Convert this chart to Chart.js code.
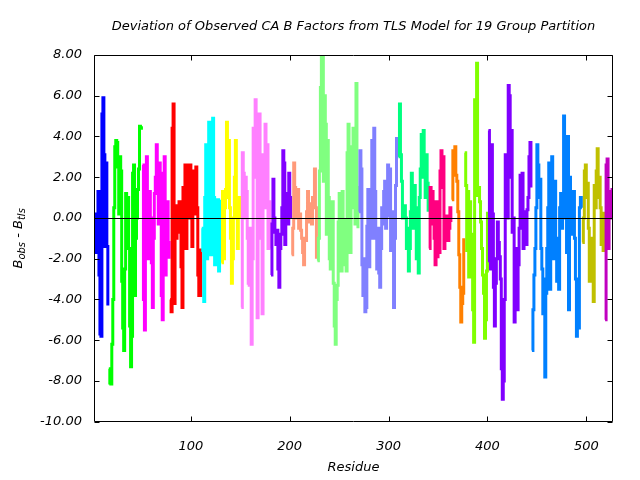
<!DOCTYPE html>
<html><head><meta charset="utf-8">
<script src="https://cdn.jsdelivr.net/npm/chart.js@4"></script>
<style>html,body{margin:0;padding:0;background:#fff;}canvas{display:block;}</style>
</head><body>
<canvas id="c" width="640" height="480"></canvas>
<script>
const titleText = "Deviation of Observed CA B Factors from TLS Model for 19 Group Partition";
const xTitle = "Residue";
const xTickValues = [100, 200, 300, 400, 500];
const yTickValues = [-10, -8, -6, -4, -2, 0, 2, 4, 6, 8];
const xRange = [2, 527];

const groupColors = ["#0000ff","#00ff00","#ff00ff","#ff0000","#00ffff","#ffff00","#ff80ff","#8000ff","#ff9a7a","#80ff80",
                     "#8080ff","#00ff80","#ff0080","#ff8000","#80ff00","#8000ff","#0080ff","#c0c000","#c000c0"];
const groupStarts = [2, 17, 51, 79, 111, 131, 151, 181, 202, 228, 270, 310, 341, 364, 377, 401, 445, 496, 519];

const g01 = [-1.5,-1.7,0.2,-0.5,1.3,-2.8,-5.7,-5.8,5.1,5.9,3.1,-1.4,2.7,-1.4,-4.3];
const g02 = [-7.4,-8.1,-8.15,-6.2,-4.0,0.5,3.5,3.8,3.7,2.5,0.2,3.0,2.3,-3.1,-5.4,-6.5,-2.5,1.2,0.3,1.0,-1.5,-5.3,-7.3,-5.8,2.2,2.6,-3.8,-1.0,0.0,1.4,2.4,4.5,4.4,4.5];
const g03 = [2.6,-4.0,-5.5,1.0,3.0,0.5,-2.0,1.3,0.0,-2.2,-4.4,-1.0,1.2,2.0,3.6,1.5,-0.3,2.7,0.5,-3.8,-5.0,2.2,3.0,-2.8,-0.5,0.8,-1.2,-2.0];
const g04 = [-4.0,-4.6,4.4,5.6,-4.2,0.6,-1.0,0.3,-0.7,0.8,0.0,-2.4,-4.4,1.5,0.8,2.6,-1.5,1.0,2.6,0.0,2.6,0.5,-1.4,2.3,0.2,1.5,2.5,0.5,-2.8,-3.8,-3.8,-1.5];
const g05 = [-0.5,-1.6,-4.1,1.0,3.6,-2.0,0.5,4.7,1.5,-1.8,4.3,4.9,1.0,-2.3,0.3,-1.5,0.9,-2.6,-1.0,0.9];
const g06 = [-2.2,1.3,-2.0,0.5,1.4,4.7,1.0,3.8,0.5,-1.0,-3.2,-2.0,0.0,2.0,3.8,1.0,-1.5,0.5,1.0,0.0];
const g07 = [-4.4,3.2,2.2,0.0,2.0,1.3,-1.0,-3.2,-3.3,-0.5,-6.2,-2.0,4.4,2.0,5.8,4.3,-4.9,0.5,5.1,-1.0,1.9,-4.7,3.1,1.9,4.6,0.5,3.6,-1.5,0.8,-1.5];
const g08 = [-2.8,-0.3,1.9,0.0,-0.7,-1.3,-0.6,-2.5,-3.4,-1.5,-0.8,0.5,3.3,2.7,-1.3,0.5,1.2,-0.3,2.2,1.0,0.0];
const g09 = [-1.8,-0.5,2.7,1.5,0.0,1.3,1.4,-0.5,0.2,-0.6,-1.0,-1.7,-2.3,-1.0,-1.1,0.3,1.3,-0.2,0.3,0.7,-0.3,1.0,0.5,2.4,0.5,-2.0];
const g10 = [-2.1,-1.0,2.3,6.4,8.0,7.9,1.8,6.0,4.6,-0.8,3.8,1.0,-2.0,-2.5,-0.5,0.8,-3.2,-5.3,-6.2,-4.0,-3.3,-0.2,1.2,-1.5,-2.6,1.3,-0.1,-2.3,-1.3,-2.6,3.2,4.6,1.1,-1.7,3.5,0.5,4.4,1.5,-0.3,6.6,1.5,-0.5];
const g11 = [0.3,3.3,2.4,-2.3,-3.8,-2.0,-4.6,-4.4,-0.4,1.4,-2.4,-1.0,1.3,3.8,-1.0,4.4,1.3,-1.0,-2.5,-0.5,-2.7,-3.4,-1.5,0.5,-0.3,1.3,1.8,-0.5,0.1,2.6,1.0,2.4,-1.6,-0.5,0.3,-4.4,-1.0,1.6,3.9,3.0];
const g12 = [3.0,5.6,3.1,1.8,0.0,0.1,0.6,0.0,-1.5,-0.5,-2.6,-1.5,0.3,2.2,1.0,-0.5,1.6,0.5,-2.0,0.2,-2.7,1.0,2.4,4.1,2.0,4.3,3.1,1.0,3.1,1.7,0.3];
const g13 = [-1.5,1.5,0.8,1.3,-0.3,-1.0,-2.3,0.8,-1.9,0.8,-1.7,2.3,3.3,1.5,3.0,-1.5,-0.5,-1.0,0.1,-1.1,-0.5,0.5,-0.2];
const g14 = [0.9,3.3,2.6,3.5,2.1,1.8,0.3,-1.8,-3.4,-5.1,-4.2,-3.7,-1.0];
const g15 = [3.2,1.6,-1.6,1.3,-2.9,0.8,-0.8,-2.0,-4.5,-6.1,5.8,2.6,7.6,1.1,1.5,0.8,-0.2,-1.5,-2.8,-3.7,-5.9,-5.0,-2.6,0.3];
const g16 = [4.3,-2.1,-2.5,3.6,0.2,-3.4,-5.3,-3.2,-2.0,-0.2,-1.2,-1.9,-3.0,-7.4,-8.9,-8.0,-4.0,3.1,1.7,0.0,6.5,6.0,2.0,4.3,-0.7,0.0,-5.1,-3.3,-1.5,-4.5,-2.3,-0.5,2.1,0.5,2.2,-1.5,-0.5,0.3,-1.3,0.4,1.0,3.0,3.7,1.5];
const g17 = [-6.5,-4.5,-2.8,-1.5,0.5,3.6,2.6,1.0,1.9,-1.5,-2.5,-4.7,-3.0,-7.8,-3.7,-1.5,0.5,2.7,-3.5,1.8,3.0,1.3,-2.0,1.8,-1.0,-3.1,-1.0,-3.5,0.5,1.2,-0.5,0.3,5.0,3.7,0.0,-1.7,4.0,-4.5,2.0,-0.8,1.3,-0.5,1.3,-1.0,-3.0,-5.8,-4.0,-5.4,0.5,1.0,0.5];
const g18 = [-1.2,0.0,2.3,2.6,1.0,1.7,-0.5,-3.1,-2.0,-2.6,-1.0,-4.1,1.6,0.5,2.3,3.4,1.0,2.0,0.5,-1.3,0.0,-1.6,0.3];
const g19 = [-5.0,2.6,2.9,-1.5,0.5,1.3,0.0,1.4,1.4];

const groupValues = [g01,g02,g03,g04,g05,g06,g07,g08,g09,g10,g11,g12,g13,g14,g15,g16,g17,g18,g19];

const FONT = "'DejaVu Sans', 'Verdana', sans-serif";
const baseFont = { family: FONT, size: 13, style: 'italic', weight: 'normal' };

const datasets = groupValues.map((vals, k) => ({
  data: vals.map((v, i) => ({ x: groupStarts[k] + i, y: v })),
  borderColor: groupColors[k],
  backgroundColor: groupColors[k],
  borderWidth: 3,
  stepped: true,
  pointRadius: 0,
  fill: false,
  order: 100 - k
}));

const framePlugin = {
  id: 'frame',
  beforeDraw(chart) {
    const ctx = chart.ctx;
    ctx.save(); ctx.fillStyle = '#fff'; ctx.fillRect(0, 0, chart.width, chart.height); ctx.restore();
  },
  afterDatasetsDraw(chart) {
    const { ctx, chartArea: a, scales } = chart;
    ctx.save();
    ctx.strokeStyle = '#000';
    ctx.lineWidth = 1;
    const y0 = Math.round(scales.y.getPixelForValue(0)) + 0.5;
    ctx.beginPath(); ctx.moveTo(a.left, y0); ctx.lineTo(a.right, y0); ctx.stroke();
    const L = Math.round(a.left) + 0.5, R = Math.round(a.right) - 0.5, T = Math.round(a.top) + 0.5, B = Math.round(a.bottom) - 0.5;
    ctx.beginPath(); ctx.rect(L, T, R - L, B - T); ctx.stroke();
    const tl = 5;
    ctx.beginPath();
    yTickValues.forEach(v => {
      const y = Math.round(scales.y.getPixelForValue(v)) + 0.5;
      ctx.moveTo(L, y); ctx.lineTo(L + tl, y);
      ctx.moveTo(R, y); ctx.lineTo(R - tl, y);
    });
    xTickValues.forEach(v => {
      const x = Math.round(scales.x.getPixelForValue(v)) + 0.5;
      ctx.moveTo(x, B); ctx.lineTo(x, B - tl);
      ctx.moveTo(x, T); ctx.lineTo(x, T + tl);
    });
    ctx.stroke();
    ctx.fillStyle = '#000';
    // title
    ctx.font = "italic 13px " + FONT;
    ctx.textAlign = 'center';
    ctx.textBaseline = 'middle';
    ctx.fillText(titleText, (a.left + a.right) / 2, 27);
    // y axis title with subscripts
    ctx.textAlign = 'left';
    ctx.translate(18, (a.top + a.bottom) / 2);
    ctx.rotate(-Math.PI / 2);
    ctx.textBaseline = 'alphabetic';
    const big = "italic 13px " + FONT, small = "italic 10px " + FONT;
    const parts = [["B", big, 0], ["obs", small, 3], [" - B", big, 0], ["tls", small, 3]];
    let w = 0;
    parts.forEach(p => { ctx.font = p[1]; w += ctx.measureText(p[0]).width; });
    let x = -w / 2;
    parts.forEach(p => { ctx.font = p[1]; ctx.fillText(p[0], x, 4 + p[2]); x += ctx.measureText(p[0]).width; });
    ctx.restore();
  }
};

new Chart(document.getElementById('c'), {
  type: 'line',
  data: { datasets },
  plugins: [framePlugin],
  options: {
    responsive: false,
    animation: false,
    devicePixelRatio: 1,
    layout: { padding: { left: 0, right: 27, top: 55, bottom: 0 } },
    plugins: {
      legend: { display: false },
      tooltip: { enabled: false },
      title: { display: false }
    },
    scales: {
      x: {
        type: 'linear', min: xRange[0], max: xRange[1],
        afterBuildTicks: s => { s.ticks = xTickValues.map(v => ({ value: v })); },
        afterFit: s => { s.height = 480 - 421.7; },
        grid: { display: false, drawTicks: false },
        border: { display: false },
        ticks: { color: '#000', font: baseFont, padding: 17, maxRotation: 0, autoSkip: false, callback: v => String(v) },
        title: { display: true, text: xTitle, color: '#000', font: baseFont, padding: { top: 0, bottom: 5 } }
      },
      y: {
        type: 'linear', min: -10, max: 8,
        afterBuildTicks: s => { s.ticks = yTickValues.map(v => ({ value: v })); },
        afterFit: s => { s.width = 94; },
        grid: { display: false, drawTicks: false },
        border: { display: false },
        ticks: { color: '#000', font: baseFont, padding: 12, autoSkip: false, callback: v => v.toFixed(2) }
      }
    }
  }
});
</script>
</body></html>
